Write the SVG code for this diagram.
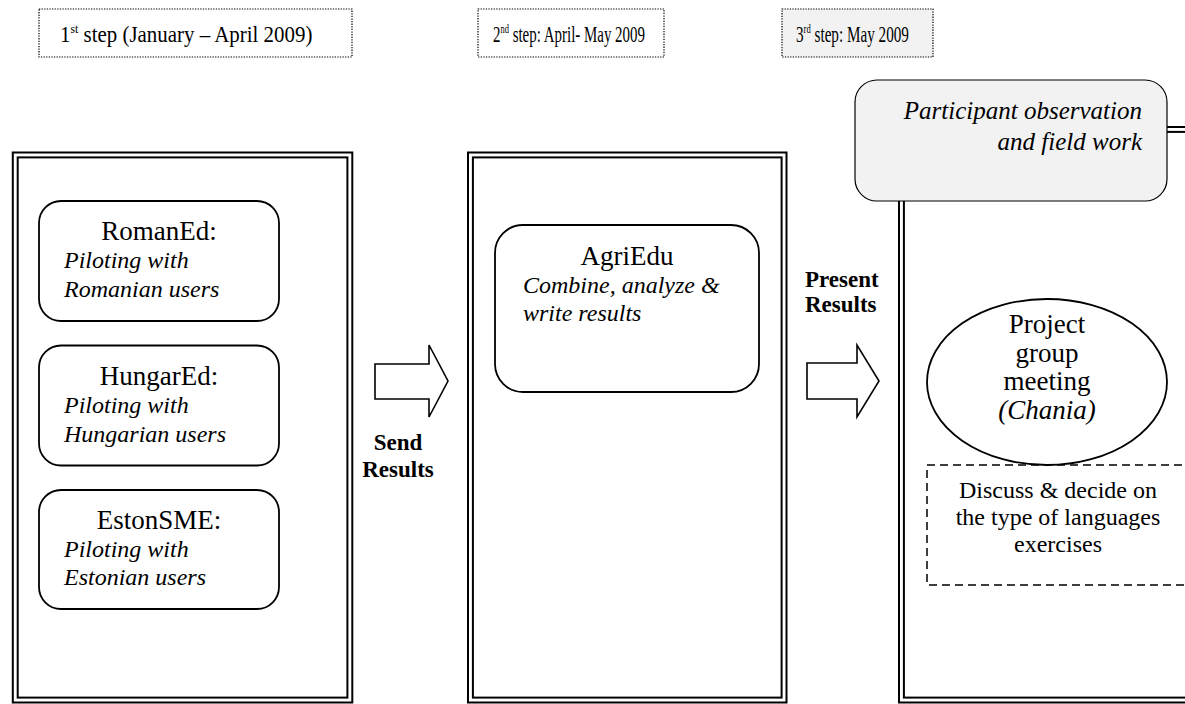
<svg xmlns="http://www.w3.org/2000/svg" width="1185" height="704" viewBox="0 0 1185 704">
  <style>
    .step { fill: #ffffff; stroke: #000; stroke-width: 1.2; stroke-dasharray: 1.3 1.3; }
    .frame { fill: none; stroke: #000; stroke-width: 2; }
    .node { fill: #ffffff; stroke: #000; stroke-width: 1.8; }
    .grey { fill: #f2f2f2; stroke: #000; stroke-width: 1.2; }
    .dash { fill: none; stroke: #000; stroke-width: 1.5; stroke-dasharray: 8 5; }
    .arrow { fill: #ffffff; stroke: #000; stroke-width: 1.6; stroke-linejoin: miter; }
    text { font-family: "Liberation Serif", "Times New Roman", serif; fill: #000; }
    .lbl { font-size: 23px; }
    .sup { font-size: 13px; }
    .head { font-size: 27px; }
    .it { font-size: 24px; font-style: italic; }
    .bold { font-size: 23px; font-weight: bold; }
    .body { font-size: 24px; }
  </style>

  <!-- phase labels (narrowed text boxes) -->
  <g id="step1">
    <rect class="step" x="39" y="9" width="313" height="48"/>
    <text class="lbl" transform="translate(60,42) scale(0.91,1)">1<tspan class="sup" dy="-9">st</tspan><tspan dy="9"> step (January – April 2009)</tspan></text>
  </g>
  <g id="step2">
    <rect class="step" x="478" y="9" width="186" height="48"/>
    <text class="lbl" transform="translate(493,42) scale(0.65,1)">2<tspan class="sup" dy="-9">nd</tspan><tspan dy="9"> step: April- May 2009</tspan></text>
  </g>
  <g id="step3">
    <rect class="step" x="782" y="9" width="151" height="48" style="fill:#f2f2f2"/>
    <text class="lbl" transform="translate(796,42) scale(0.66,1)">3<tspan class="sup" dy="-9">rd</tspan><tspan dy="9"> step: May 2009</tspan></text>
  </g>

  <!-- phase frames (double border) -->
  <g id="frame1">
    <rect class="frame" x="12.8" y="152.5" width="339.5" height="550"/>
    <rect class="frame" x="17.7" y="157.4" width="329.7" height="540.2"/>
  </g>
  <g id="frame2">
    <rect class="frame" x="468" y="152.5" width="318.5" height="550"/>
    <rect class="frame" x="472.9" y="157.4" width="308.7" height="540.2"/>
  </g>
  <g id="frame3">
    <rect class="frame" x="899" y="127" width="300" height="575.5"/>
    <rect class="frame" x="903.9" y="131.9" width="300" height="565.7"/>
  </g>

  <!-- step 1 partners -->
  <g id="romaned">
    <rect class="node" x="39" y="201" width="240" height="120" rx="22"/>
    <text class="head" x="159" y="240" text-anchor="middle">RomanEd:</text>
    <text class="it" x="64" y="268">Piloting with</text>
    <text class="it" x="64" y="297">Romanian users</text>
  </g>
  <g id="hungared">
    <rect class="node" x="39" y="345.5" width="240" height="120" rx="22"/>
    <text class="head" x="159" y="384.5" text-anchor="middle">HungarEd:</text>
    <text class="it" x="64" y="412.5">Piloting with</text>
    <text class="it" x="64" y="441.5">Hungarian users</text>
  </g>
  <g id="estonsme">
    <rect class="node" x="39" y="490" width="240" height="119" rx="22"/>
    <text class="head" x="159" y="529" text-anchor="middle">EstonSME:</text>
    <text class="it" x="64" y="557">Piloting with</text>
    <text class="it" x="64" y="585">Estonian users</text>
  </g>

  <!-- step 2 -->
  <g id="agriedu">
    <rect class="node" x="495" y="225" width="264" height="167" rx="28"/>
    <text class="head" x="627" y="265" text-anchor="middle">AgriEdu</text>
    <text class="it" x="523" y="293">Combine, analyze &amp;</text>
    <text class="it" x="523" y="321">write results</text>
  </g>

  <!-- step 3 -->
  <g id="fieldwork">
    <rect class="grey" x="855" y="80" width="312" height="121" rx="22"/>
    <text class="it" x="1142" y="119" text-anchor="end" style="font-size:25px">Participant observation</text>
    <text class="it" x="1142" y="150" text-anchor="end" style="font-size:25px">and field work</text>
  </g>
  <g id="meeting">
    <ellipse class="node" cx="1047" cy="382" rx="120" ry="83"/>
    <text class="head" x="1047" y="333" text-anchor="middle">Project</text>
    <text class="head" x="1047" y="361.5" text-anchor="middle">group</text>
    <text class="head" x="1047" y="390" text-anchor="middle">meeting</text>
    <text class="head" x="1047" y="418.5" text-anchor="middle" font-style="italic">(Chania)</text>
  </g>
  <g id="decide">
    <rect class="dash" x="927" y="465" width="270" height="120"/>
    <text class="body" x="1058" y="498" text-anchor="middle">Discuss &amp; decide on</text>
    <text class="body" x="1058" y="525" text-anchor="middle">the type of languages</text>
    <text class="body" x="1058" y="552" text-anchor="middle">exercises</text>
  </g>

  <!-- connectors -->
  <g id="connectors">
    <polygon class="arrow" points="375,364 429,364 429,345 448,381 429,417 429,399 375,399"/>
    <text class="bold" x="398" y="450" text-anchor="middle">Send</text>
    <text class="bold" x="398" y="477" text-anchor="middle">Results</text>
    <polygon class="arrow" points="807,363 857,363 857,345 879,381 857,417 857,399 807,399"/>
    <text class="bold" x="805" y="287">Present</text>
    <text class="bold" x="805" y="312">Results</text>
  </g>
</svg>
